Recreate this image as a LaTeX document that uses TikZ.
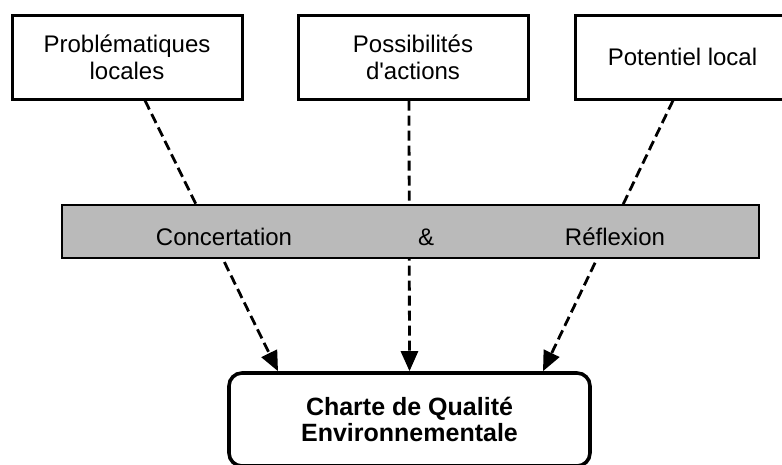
\documentclass[tikz,border=0pt]{standalone}
\usepackage{fontspec}
\setmainfont{Liberation Sans}
\usepackage{tikz}
\usetikzlibrary{arrows.meta}
\tikzset{
Boite/.style={
 draw=black, 
 line width=3pt, 
 minimum height=84pt, 
 align=center, 
 font=\fontsize{24}{27}\selectfont
 },
Charte/.style={
 draw=black, 
 line width=3.6pt, 
 rounded corners=13pt, 
 minimum width=361pt, 
 minimum height=93pt, 
 align=center, 
 font=\fontsize{25}{26}\selectfont\bfseries
 },
Bandeau/.style={
 draw=black, 
 fill=black!27, 
 line width=2.4pt, 
 minimum width=697pt, 
 minimum height=53pt
 },
BandeauTexte/.style={
 inner sep=0pt, 
 font=\fontsize{24}{27}\selectfont
 },
Fleche/.style={
 draw=black, 
 line width=2.8pt, 
 dash pattern=on 10pt off 5pt, 
 -{Triangle[length=20pt,width=17pt]}
 }
}
\begin{document}
\begin{tikzpicture}[x=1pt,y=-1pt]
\useasboundingbox (0,0) rectangle (782,464);
\node[Boite,minimum width=230pt] (prob) at (127,57) {Problématiques\\locales};
\node[Boite,minimum width=230pt] (poss) at (413,57) {Possibilités\\d\textquotesingle actions};
\node[Boite,minimum width=215pt] (pot) at (682.5,57) {Potentiel local};
\node[Charte] (charte) at (409.5,419.5) {Charte de Qualité\\Environnementale};
\draw[Fleche] ([xshift=18pt]prob.south) -- ([xshift=-131.5pt]charte.north);
\draw[Fleche] ([xshift=-4pt]poss.south) -- (charte.north);
\draw[Fleche] ([xshift=-9.5pt]pot.south) -- ([xshift=133.5pt]charte.north);
\node[Bandeau] (bandeau) at (410.5,231.5) {};
\node[BandeauTexte] (concert) at (224,237) {Concertation};
\node[BandeauTexte] (et) at (426,237) {\&};
\node[BandeauTexte] (reflex) at (615,237) {Réflexion};
\end{tikzpicture}
\end{document}
